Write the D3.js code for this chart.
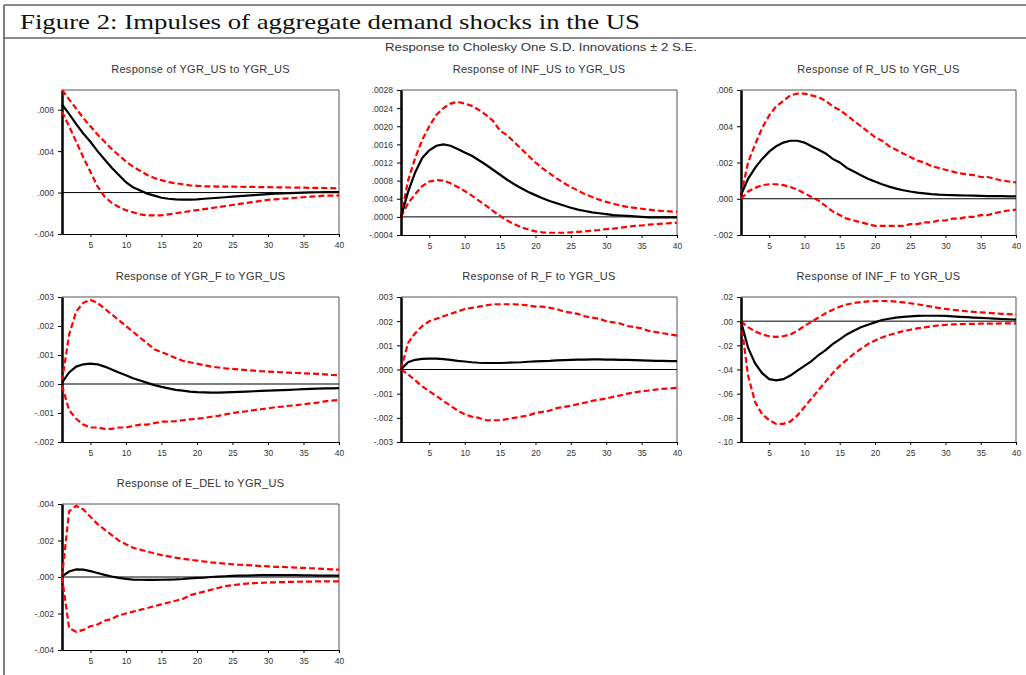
<!DOCTYPE html>
<html lang="en">
<head>
  <meta charset="UTF-8">
  <title>Impulses of aggregate demand shocks in the US</title>
  <style>
    body { margin: 0; background: #fff; }
    svg text { font-family: "Liberation Sans", Arial, sans-serif; fill: #222; }
    .ptitle { font-size: 11px; letter-spacing: 0.3px; fill: #333; }
    .tick text { font-size: 8.5px; fill: #333; }
  </style>
  <script src="https://d3js.org/d3.v7.min.js"></script>
</head>
<body>
<script>
// periods 1..40
var periods = d3.range(1, 41);

var panelTitles = [
  "Response of YGR_US to YGR_US",
  "Response of INF_US to YGR_US",
  "Response of R_US to YGR_US",
  "Response of YGR_F to YGR_US",
  "Response of R_F to YGR_US",
  "Response of INF_F to YGR_US",
  "Response of E_DEL to YGR_US"
];

// y tick values / labels per panel
var yTicks = [
  [-0.004, 0, 0.004, 0.008],
  [-0.0004, 0, 0.0004, 0.0008, 0.0012, 0.0016, 0.0020, 0.0024, 0.0028],
  [-0.002, 0, 0.002, 0.004, 0.006],
  [-0.002, -0.001, 0, 0.001, 0.002, 0.003],
  [-0.003, -0.002, -0.001, 0, 0.001, 0.002, 0.003],
  [-0.10, -0.08, -0.06, -0.04, -0.02, 0, 0.02],
  [-0.004, -0.002, 0, 0.002, 0.004]
];
var yTickLabels = [
  ["-.004", ".000", ".004", ".008"],
  ["-.0004", ".0000", ".0004", ".0008", ".0012", ".0016", ".0020", ".0024", ".0028"],
  ["-.002", ".000", ".002", ".004", ".006"],
  ["-.002", "-.001", ".000", ".001", ".002", ".003"],
  ["-.003", "-.002", "-.001", ".000", ".001", ".002", ".003"],
  ["-.10", "-.08", "-.06", "-.04", "-.02", ".00", ".02"],
  ["-.004", "-.002", ".000", ".002", ".004"]
];
var yDomains = [
  [-0.004, 0.0099],
  [-0.0004, 0.0028],
  [-0.002, 0.006],
  [-0.002, 0.003],
  [-0.003, 0.003],
  [-0.10, 0.02],
  [-0.004, 0.004]
];
var xTicks = [5, 10, 15, 20, 25, 30, 35, 40];

// responses: point estimate, upper and lower 2 S.E. bands
var ygrUsMid = [.0085,.0076,.0066,.0057,.0049,.0040,.0032,.0024,.0017,.0010,.0005,.0002,-.0001,-.0003,-.0005,-.0006,-.00065,-.00068,-.00068,-.00066,-.0006,-.00055,-.0005,-.00045,-.0004,-.00035,-.0003,-.00025,-.0002,-.00015,-.0001,-.00008,-.00005,-.00003,0,.00002,.00003,.00004,.00005,.00005];
var ygrUsUp = [.0099,.0090,.0081,.0072,.0064,.0056,.0049,.0042,.0036,.0030,.0025,.0021,.0017,.0014,.0012,.0010,.0009,.0008,.0007,.00065,.0006,.0006,.00058,.00058,.00057,.00056,.00055,.00054,.00053,.00052,.00051,.0005,.00049,.00048,.00047,.00046,.00045,.00044,.00042,.0004];
var ygrUsLo = [.0078,.0064,.0049,.0034,.0020,.0006,-.0004,-.0010,-.0014,-.0017,-.0019,-.0021,-.0022,-.0022,-.0022,-.0021,-.0020,-.0019,-.0018,-.0017,-.0016,-.0015,-.0014,-.0013,-.0012,-.0011,-.0010,-.0009,-.0008,-.0007,-.00065,-.0006,-.00055,-.0005,-.00045,-.0004,-.00035,-.0003,-.0003,-.00028];

var infUsMid = [0,.00055,.00098,.0013,.00147,.00157,.0016,.00157,.0015,.00142,.00135,.00125,.00115,.00104,.00093,.00082,.00072,.00063,.00055,.00048,.00041,.00035,.0003,.00025,.0002,.00016,.00013,.0001,.00008,.00006,.00004,.00003,.00002,.00001,0,-.00001,-.00001,-.00001,-.00001,-.00001];
var infUsUp = [0,.0008,.0013,.0017,.0020,.00225,.0024,.0025,.00254,.0025,.00245,.00236,.00225,.00212,.0019,.0018,.00165,.0015,.00135,.0012,.00107,.00096,.00085,.00075,.00066,.00058,.0005,.00044,.00038,.00033,.00029,.00025,.00022,.0002,.00018,.00016,.00014,.00013,.00012,.00011];
var infUsLo = [0,.0003,.0005,.00068,.00078,.00081,.0008,.00074,.00066,.00057,.00047,.00036,.00025,.00013,.00002,-.00008,-.00016,-.00023,-.00028,-.00032,-.00034,-.00035,-.00035,-.00035,-.00034,-.00033,-.00032,-.0003,-.00029,-.00027,-.00026,-.00024,-.00022,-.0002,-.00019,-.00017,-.00016,-.00015,-.00014,-.00013];

var rUsMid = [.0002,.0011,.0017,.0022,.0026,.0029,.0031,.0032,.0032,.0031,.0029,.0027,.0025,.0022,.0020,.0017,.0015,.0013,.0011,.00095,.0008,.00067,.00056,.00047,.0004,.00034,.0003,.00026,.00023,.00021,.0002,.00019,.00018,.00017,.00016,.00015,.00015,.00014,.00013,.00013];
var rUsUp = [.0002,.0020,.0030,.0039,.0046,.0051,.0054,.0057,.0058,.0058,.0057,.0056,.0054,.0051,.0049,.0046,.0043,.0040,.0037,.0034,.0032,.0029,.0027,.0025,.0023,.0021,.0020,.0018,.0017,.0016,.0015,.0014,.00135,.0013,.0012,.0012,.0011,.0010,.00095,.0009];
var rUsLo = [0,.0004,.0006,.00075,.0008,.0008,.00075,.00065,.0005,.0003,.0001,-.0001,-.0004,-.0007,-.0009,-.0011,-.0012,-.0013,-.0014,-.0015,-.0015,-.0015,-.0015,-.0015,-.0014,-.0014,-.0013,-.0013,-.0012,-.0012,-.0011,-.0011,-.0010,-.0010,-.0009,-.0009,-.0008,-.0007,-.00065,-.0006];

var ygrFMid = [.00005,.0004,.0006,.00068,.0007,.00068,.0006,.0005,.0004,.0003,.0002,.00012,.00004,-.00004,-.0001,-.00015,-.0002,-.00023,-.00026,-.00028,-.00029,-.0003,-.0003,-.00029,-.00028,-.00027,-.00026,-.00025,-.00024,-.00023,-.00022,-.00021,-.0002,-.00019,-.00018,-.00017,-.00016,-.00015,-.00015,-.00014];
var ygrFUp = [.0001,.0017,.0025,.0028,.0029,.0028,.0026,.0024,.0022,.0020,.0018,.0016,.0014,.0012,.0011,.0010,.0009,.0008,.00075,.0007,.00065,.0006,.00057,.00054,.00052,.0005,.00048,.00046,.00044,.00043,.00042,.0004,.00039,.00038,.00037,.00036,.00035,.00033,.00031,.0003];
var ygrFLo = [-.00005,-.0009,-.0012,-.0014,-.0015,-.0015,-.00155,-.00155,-.0015,-.0015,-.00145,-.0014,-.0014,-.00135,-.0013,-.0013,-.00128,-.00125,-.00122,-.0012,-.00117,-.00113,-.0011,-.00105,-.0010,-.00097,-.00094,-.0009,-.00087,-.00084,-.0008,-.00078,-.00075,-.00073,-.0007,-.00067,-.00064,-.0006,-.00057,-.00055];

var rFMid = [0,.0003,.0004,.00044,.00045,.00045,.00043,.0004,.00036,.00033,.0003,.00028,.00027,.00027,.00027,.00028,.00029,.0003,.00032,.00034,.00035,.00036,.00038,.00039,.0004,.00041,.00041,.00042,.00042,.00041,.00041,.0004,.0004,.00039,.00038,.00037,.00036,.00036,.00035,.00035];
var rFUp = [0,.0011,.0015,.0018,.0020,.0021,.0022,.0023,.0024,.0025,.00255,.0026,.00265,.0027,.0027,.0027,.0027,.00268,.00265,.0026,.0026,.00255,.0025,.0024,.00235,.0023,.0022,.00215,.0021,.0020,.00195,.0019,.0018,.00175,.0017,.0016,.00155,.0015,.00145,.0014];
var rFLo = [0,-.0002,-.00045,-.0007,-.0009,-.0011,-.0013,-.0015,-.0017,-.00185,-.00195,-.0020,-.0021,-.0021,-.0021,-.00205,-.0020,-.00195,-.0019,-.0018,-.00175,-.0017,-.0016,-.00155,-.0015,-.00143,-.00137,-.0013,-.00125,-.0012,-.00113,-.00107,-.0010,-.00095,-.0009,-.00087,-.00083,-.0008,-.00078,-.00076];

var infFMid = [0,-.022,-.035,-.043,-.048,-.049,-.048,-.045,-.041,-.037,-.033,-.028,-.024,-.019,-.015,-.011,-.008,-.005,-.003,-.001,.001,.002,.003,.0035,.004,.0043,.0045,.0045,.0045,.0043,.004,.0036,.0033,.003,.0027,.0024,.0021,.0018,.0016,.0014];
var infFUp = [0,-.005,-.0085,-.011,-.0125,-.013,-.0125,-.011,-.008,-.004,-.0005,.003,.0065,.0095,.012,.0138,.015,.0158,.0163,.0166,.0167,.0166,.0162,.0156,.0148,.014,.013,.012,.011,.0101,.0094,.0088,.0082,.0077,.0073,.0069,.0065,.0061,.0058,.0055];
var infFLo = [0,-.045,-.067,-.077,-.082,-.085,-.085,-.083,-.078,-.071,-.064,-.057,-.050,-.043,-.037,-.032,-.027,-.023,-.019,-.016,-.0135,-.0115,-.0098,-.0083,-.0071,-.006,-.0051,-.0043,-.0036,-.003,-.0027,-.0025,-.0023,-.0022,-.0021,-.002,-.002,-.0019,-.0019,-.0019];

var eDelMid = [.00003,.0003,.00042,.0004,.00032,.00022,.00012,.00003,-.00005,-.0001,-.00014,-.00015,-.00016,-.00016,-.00015,-.00014,-.00013,-.00011,-.00008,-.00005,-.00003,0,.00002,.00004,.00006,.00007,.00008,.00009,.0001,.0001,.0001,.0001,.0001,.0001,.00009,.00009,.00008,.00008,.00007,.00007];
var eDelUp = [0,.0036,.0039,.0037,.0033,.0029,.0026,.0023,.0020,.0018,.0016,.0015,.0014,.0013,.0012,.00113,.00106,.0010,.00095,.0009,.00085,.0008,.00076,.00073,.0007,.00067,.00065,.00063,.0006,.00058,.00056,.00055,.00053,.00051,.0005,.00048,.00046,.00044,.00042,.0004];
var eDelLo = [0,-.0028,-.0030,-.0029,-.0027,-.0026,-.0024,-.0023,-.0021,-.0020,-.0019,-.0018,-.0017,-.0016,-.0015,-.0014,-.0013,-.0012,-.0010,-.0009,-.0008,-.0007,-.0006,-.0005,-.00045,-.0004,-.00036,-.00034,-.00032,-.0003,-.00029,-.00028,-.00027,-.00026,-.00025,-.00025,-.00024,-.00024,-.00024,-.00024];

var midSeries = [ygrUsMid, infUsMid, rUsMid, ygrFMid, rFMid, infFMid, eDelMid];
var upSeries = [ygrUsUp, infUsUp, rUsUp, ygrFUp, rFUp, infFUp, eDelUp];
var loSeries = [ygrUsLo, infUsLo, rUsLo, ygrFLo, rFLo, infFLo, eDelLo];

// plot frames: left, top, right, bottom
var frames = [
  [62, 90, 339, 234],
  [401, 90, 677, 235],
  [741, 90, 1016, 235],
  [62, 297, 339, 442],
  [401, 297, 677, 442],
  [741, 297, 1016, 442],
  [62, 504, 339, 650]
];

var W = 1026, H = 675;
var svg = d3.select("body").append("svg")
  .attr("width", W).attr("height", H);

// figure caption box
svg.append("line").attr("x1", 4).attr("x2", W).attr("y1", 5).attr("y2", 5)
  .attr("stroke", "#666").attr("stroke-width", 1.5);
svg.append("line").attr("x1", 4).attr("x2", W).attr("y1", 38).attr("y2", 38)
  .attr("stroke", "#666").attr("stroke-width", 1.5);
svg.append("line").attr("x1", 4).attr("x2", 4).attr("y1", 5).attr("y2", H)
  .attr("stroke", "#555").attr("stroke-width", 1.5);

svg.append("text")
  .attr("x", 20).attr("y", 29)
  .attr("textLength", 620).attr("lengthAdjust", "spacingAndGlyphs")
  .style("font-family", "'Liberation Serif', 'DejaVu Serif', serif")
  .style("font-size", "22px").style("fill", "#111")
  .text("Figure 2: Impulses of aggregate demand shocks in the US");

svg.append("text")
  .attr("x", 385).attr("y", 51)
  .attr("textLength", 312).attr("lengthAdjust", "spacingAndGlyphs")
  .style("font-size", "11px").style("fill", "#333")
  .text("Response to Cholesky One S.D. Innovations \u00b1 2 S.E.");

var lineGen = function(x, y) {
  return d3.line()
    .x(function(d, i) { return x(periods[i]); })
    .y(function(d) { return y(d); });
};

frames.forEach(function(f, k) {
  var x = d3.scaleLinear().domain([1, 40]).range([f[0], f[2]]);
  var y = d3.scaleLinear().domain(yDomains[k]).range([f[3], f[1]]);
  var g = svg.append("g");

  g.append("text").attr("class", "ptitle")
    .attr("x", (f[0] + f[2]) / 2).attr("y", f[1] - 17)
    .attr("text-anchor", "middle")
    .text(panelTitles[k]);

  // frame top/right
  g.append("path")
    .attr("d", "M" + f[0] + "," + f[1] + "H" + f[2] + "V" + f[3])
    .attr("fill", "none").attr("stroke", "#555").attr("stroke-width", 1);

  var yAxis = d3.axisLeft(y).tickValues(yTicks[k]).tickSize(4).tickSizeOuter(0)
    .tickFormat(function(d, i) { return yTickLabels[k][i]; });
  var ya = g.append("g").attr("transform", "translate(" + f[0] + ",0)").call(yAxis);
  ya.select(".domain").attr("stroke", "#000").attr("stroke-width", 2.5);
  ya.selectAll(".tick line").attr("stroke", "#000");
  ya.selectAll(".tick text").attr("x", -8).attr("dy", "0.35em");

  var xAxis = d3.axisBottom(x).tickValues(xTicks).tickSize(3).tickSizeOuter(0);
  var xa = g.append("g").attr("transform", "translate(0," + f[3] + ")").call(xAxis);
  xa.select(".domain").attr("stroke", "#000").attr("stroke-width", 1.2);
  xa.selectAll(".tick text").attr("y", 8);

  // zero line
  g.append("line")
    .attr("x1", f[0]).attr("x2", f[2])
    .attr("y1", y(0)).attr("y2", y(0))
    .attr("stroke", "#000").attr("stroke-width", 1);

  var lg = lineGen(x, y);
  [upSeries[k], loSeries[k]].forEach(function(s) {
    g.append("path").attr("d", lg(s))
      .attr("fill", "none").attr("stroke", "#ff0000")
      .attr("stroke-width", 2.2).attr("stroke-dasharray", "6,3");
  });
  g.append("path").attr("d", lg(midSeries[k]))
    .attr("fill", "none").attr("stroke", "#000").attr("stroke-width", 2.2);
});
</script>
</body>
</html>
